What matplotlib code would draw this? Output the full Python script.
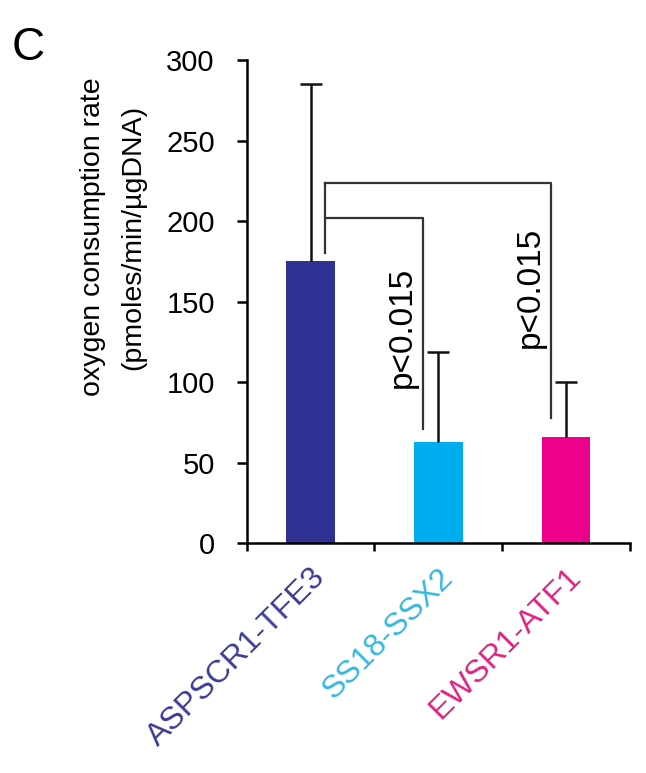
import numpy as np
import matplotlib.pyplot as plt

plt.rcParams['font.family'] = ['Liberation Sans', 'DejaVu Sans']

# data
groups = ['ASPSCR1-TFE3', 'SS18-SSX2', 'EWSR1-ATF1']
ocr = [175, 63, 66]
ocr_err = [110, 56, 34]
colors = ['#2e3192', '#00aeef', '#ec008c']
label_colors = ['#3b3b96', '#35b8e0', '#e0207f']
pval = 'p<0.015'

fig = plt.figure(figsize=(6.46, 7.73), dpi=100)
ax = fig.add_axes([0.382, 0.2975, 0.593, 0.6245])

x = np.arange(len(groups)) + 0.5
ax.bar(x, ocr, width=0.38, color=colors, zorder=2)
eb = ax.errorbar(x, ocr, yerr=[np.zeros(3), ocr_err], fmt='none', ecolor='#111111',
                 elinewidth=1.8, capsize=8, capthick=1.8, zorder=3)
# only the upper caps
eb[1][0].set_visible(False)

# significance brackets
bx = x[0] + 0.11
ax.plot([bx, bx], [180, 224], color='#333333', lw=1.6)
ax.plot([bx, x[1] - 0.12, x[1] - 0.12], [202, 202, 71], color='#333333', lw=1.6)
ax.plot([bx, x[2] - 0.12, x[2] - 0.12], [224, 224, 78], color='#333333', lw=1.6)
ax.text(x[1] - 0.28, 134, pval, rotation=90, ha='center', va='center', fontsize=24)
ax.text(x[2] - 0.28, 159, pval, rotation=90, ha='center', va='center', fontsize=24)

ax.set_xlim(0, 3)
ax.set_ylim(0, 300)
ax.set_yticks(np.arange(0, 301, 50))
ax.tick_params(axis='y', labelsize=21, width=1.8, length=7, pad=16)
ax.set_xticks([0, 1, 2, 3])
ax.set_xticklabels([])
ax.tick_params(axis='x', which='major', direction='out', length=6, width=1.8)
ax.set_xticks(x, minor=True)
ax.set_xticklabels(groups, minor=True, rotation=45, ha='right',
                   rotation_mode='anchor', fontsize=23)
ax.tick_params(axis='x', which='minor', length=0, pad=14)
for lbl, c in zip(ax.get_xticklabels(minor=True), label_colors):
    lbl.set_color(c)

for s in ['top', 'right']:
    ax.spines[s].set_visible(False)
for s in ['left', 'bottom']:
    ax.spines[s].set_linewidth(1.8)

ax.set_ylabel('oxygen consumption rate\n(pmoles/min/\u00b5gDNA)', fontsize=20.5,
              linespacing=1.7)
ax.yaxis.set_label_coords(-0.262, 0.634)

fig.text(0.018, 0.922, 'C', fontsize=33)

fig.savefig('out.png', dpi=100)
